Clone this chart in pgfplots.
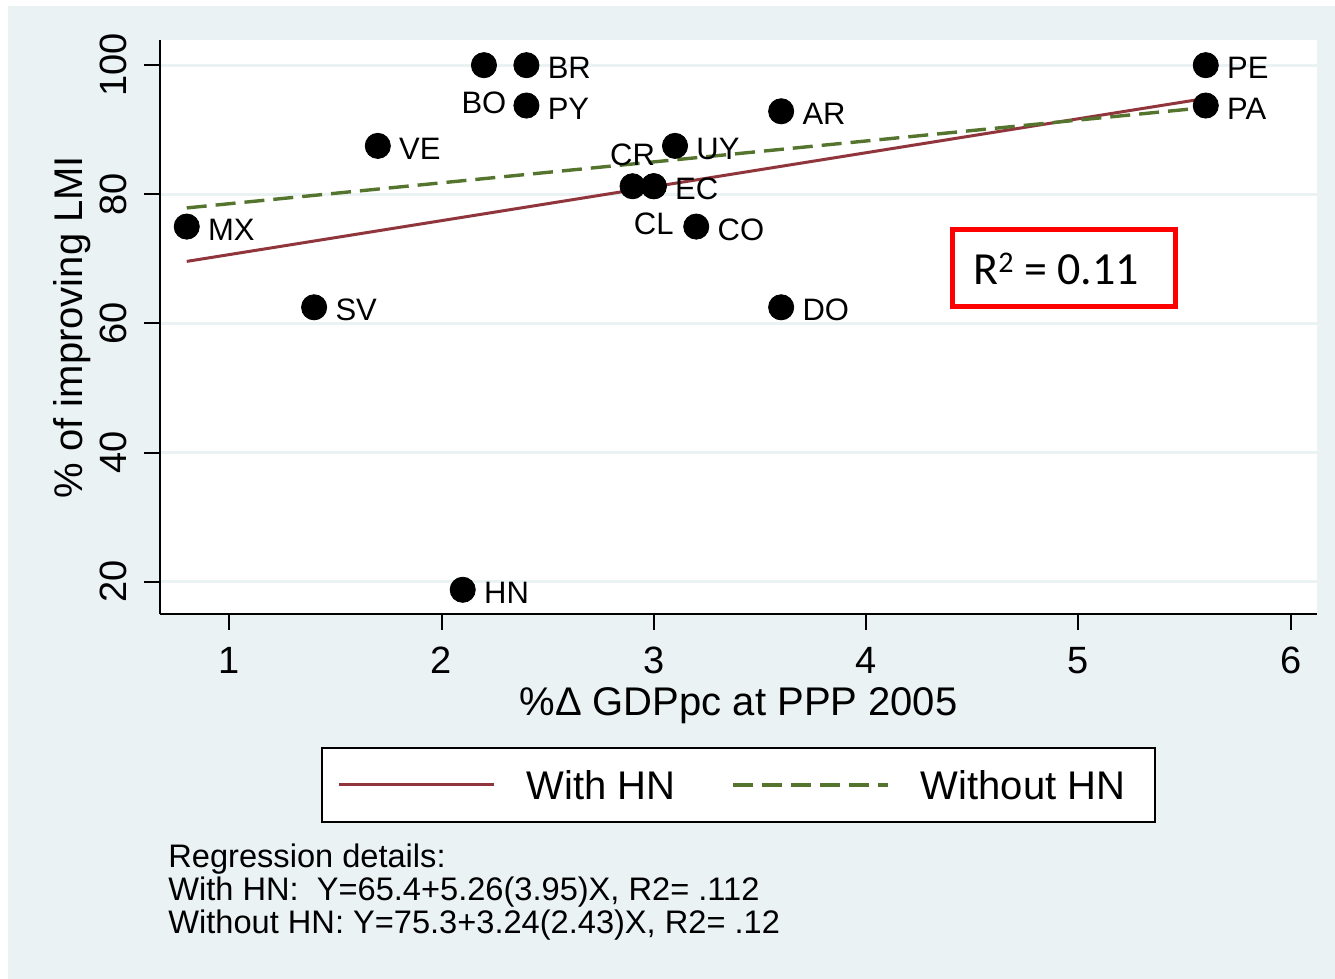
\documentclass[border=0pt]{standalone}
\usepackage{fontspec}
\setmainfont{Liberation Sans}
\newfontfamily\boxfont{Carlito}
\usepackage{pgfplots}
\pgfplotsset{compat=1.18}
\definecolor{bgblue}{HTML}{EAF2F3}
\definecolor{fitmaroon}{HTML}{90353B}
\definecolor{fitgreen}{HTML}{55752F}

% countries labelled to the right of their marker
\pgfplotstableread{
x    y      lbl
0.8  75     MX
1.4  62.5   SV
1.7  87.5   VE
2.1  18.75  HN
2.4  100    BR
2.4  93.75  PY
3.0  81.25  EC
3.1  87.5   UY
3.2  75     CO
3.6  92.86  AR
3.6  62.5   DO
5.6  100    PE
5.6  93.75  PA
}\rightlabelled
% labelled below the marker
\pgfplotstableread{
x    y      lbl
2.2  100    BO
3.0  81.25  CL
}\belowlabelled
% labelled above the marker
\pgfplotstableread{
x    y      lbl
2.9  81.25  CR
}\abovelabelled

\begin{document}
\begin{tikzpicture}
\path[use as bounding box] (0,0) rectangle (667.5pt,489.5pt);
\fill[white] (0,0) rectangle (667.5pt,489.5pt);
\fill[bgblue] (4pt,0) rectangle (667.5pt,486.5pt);
\begin{axis}[
  at={(80pt,182.5pt)}, anchor=south west,
  scale only axis, width=578.5pt, height=287pt,
  xmin=0.674, xmax=6.124, ymin=15, ymax=103.9,
  axis x line*=bottom, axis y line*=left,
  axis line style={line width=1.1pt, black},
  axis background/.style={fill=white},
  xtick={1,2,3,4,5,6}, ytick={20,40,60,80,100},
  tick align=outside, major tick length=8pt,
  tick style={line width=1pt, black},
  ymajorgrids, grid style={bgblue, line width=1.5pt},
  /pgf/number format/assume math mode=true,
  xticklabel style={font=\fontsize{19}{19}\selectfont, anchor=north, inner sep=0pt, yshift=-8.5pt},
  yticklabel style={font=\fontsize{19}{19}\selectfont, xshift=-8.5pt, rotate=90, anchor=south, inner sep=0pt},
  xlabel={\%Δ GDPpc at PPP 2005},
  xlabel style={at={(axis description cs:0.5,-0.176)}, anchor=base, inner sep=0pt, font=\fontsize{20}{20}\selectfont},
  ylabel={\% of improving LMI},
  ylabel style={at={(axis description cs:-0.0674,0.5)}, rotate=0, anchor=base, inner sep=0pt, font=\fontsize{20}{20}\selectfont},
  legend columns=2,
  legend cell align=left,
  legend style={at={(axis description cs:0.5,-0.2317)}, anchor=north,
    draw=black, line width=1pt, fill=white, inner xsep=8pt, inner ysep=11.2pt,
    font=\fontsize{20}{20}\selectfont,
    nodes={inner sep=0pt, text depth=0pt},
    /tikz/every odd column/.append style={column sep=15.5pt},
    /tikz/every even column/.append style={column sep=28pt}},
  legend image code/.code={\draw[#1] (0pt,0pt) -- (77.5pt,0pt);},
  clip=false,
]
\addplot[only marks, mark=*, mark size=6.3pt, black, forget plot,
  nodes near coords, point meta=explicit symbolic,
  every node near coord/.append style={anchor=west, xshift=10.5pt, yshift=-1.5pt,
    inner sep=0pt, black, font=\fontsize{15.5}{15.5}\selectfont}]
  table[x=x, y=y, meta=lbl] {\rightlabelled};
\addplot[only marks, mark=*, mark size=6.3pt, black, forget plot,
  nodes near coords, point meta=explicit symbolic,
  every node near coord/.append style={anchor=center, yshift=-18.75pt,
    inner sep=0pt, black, font=\fontsize{15.5}{15.5}\selectfont}]
  table[x=x, y=y, meta=lbl] {\belowlabelled};
\addplot[only marks, mark=*, mark size=6.3pt, black, forget plot,
  nodes near coords, point meta=explicit symbolic,
  every node near coord/.append style={anchor=center, yshift=15.5pt,
    inner sep=0pt, black, font=\fontsize{15.5}{15.5}\selectfont}]
  table[x=x, y=y, meta=lbl] {\abovelabelled};
% fitted lines: Y = 65.4 + 5.26X and Y = 75.3 + 3.24X over the observed range
\addplot[fitmaroon, line width=1.5pt] coordinates {(0.8,69.608) (5.6,94.856)};
\addlegendentry{With HN}
\addplot[fitgreen, line width=1.7pt, dash pattern=on 10pt off 4.5pt] coordinates {(0.8,77.892) (5.6,93.444)};
\addlegendentry{Without HN\hspace*{7pt}}
% R-squared callout
\node[draw=red, line width=2.5pt, minimum width=111.5pt, minimum height=38.5pt, inner sep=0pt]
  at (axis cs:4.933,68.57) {};
\node[anchor=base west, inner sep=0pt, font=\boxfont\fontsize{23}{23}\selectfont]
  at (axis cs:4.504,66.09) {R\raisebox{6pt}{\fontsize{15}{15}\selectfont 2} = 0.11};
\end{axis}
\node[anchor=base west, inner sep=0pt, font=\fontsize{16.3}{16.3}\selectfont] at (84pt,55.5pt) {Regression details:};
\node[anchor=base west, inner sep=0pt, font=\fontsize{16.3}{16.3}\selectfont] at (84pt,39pt) {With HN:\ \ Y=65.4+5.26(3.95)X, R2= .112};
\node[anchor=base west, inner sep=0pt, font=\fontsize{16.3}{16.3}\selectfont] at (84pt,22.5pt) {Without HN: Y=75.3+3.24(2.43)X, R2= .12};
\end{tikzpicture}
\end{document}
